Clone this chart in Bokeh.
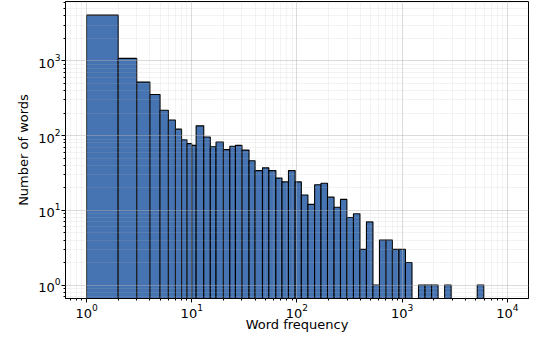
from bokeh.plotting import figure
from bokeh.models import ColumnDataSource, Range1d
from bokeh.embed import file_html
from bokeh.resources import INLINE

# Histogram bin edges (word frequency) and counts (number of words)
bin_edges = [1, 2, 3, 4, 5, 6, 7, 8, 9, 10, 11, 13, 15, 17, 20, 23, 26, 30, 35, 40,
             47, 54, 63, 72, 83, 96, 110, 127, 147, 169, 195, 225, 259, 298, 344,
             397, 457, 527, 608, 700, 807, 931, 1073, 1238, 1428, 1647, 1900, 2192,
             2528, 2916, 3364, 3880, 4476, 5163, 5956]
counts = [4100, 1080, 520, 355, 218, 162, 122, 88, 78, 74, 135, 96, 71, 82, 65, 72,
          74, 64, 46, 34, 37, 34, 27, 24, 34, 24, 16, 12, 22, 23, 15, 11, 14, 8, 9,
          3, 7, 1, 4, 4, 3, 3, 2, 0, 1, 1, 1, 0, 1, 0, 0, 0, 0, 1]
x_label = "Word frequency"
y_label = "Number of words"

left, right, top = [], [], []
for i, c in enumerate(counts):
    if c > 0:
        left.append(bin_edges[i])
        right.append(bin_edges[i + 1])
        top.append(c)
src = ColumnDataSource(dict(left=left, right=right, top=top, bottom=[0.1] * len(top)))

FONT = "DejaVu Sans"

p = figure(width=529, height=334, x_axis_type="log", y_axis_type="log",
           x_range=Range1d(0.631, 15849), y_range=Range1d(0.66, 6240),
           output_backend="svg", toolbar_location=None,
           min_border_left=65, min_border_right=1, min_border_top=1, min_border_bottom=30)

p.quad(left="left", right="right", top="top", bottom="bottom", source=src,
       fill_color="#4673b1", line_color="black", line_width=1.1)

p.outline_line_color = "black"
p.outline_line_width = 1
p.background_fill_color = "white"
p.border_fill_color = "white"

for ax in (p.xaxis[0], p.yaxis[0]):
    ax.axis_line_color = "black"
    ax.major_tick_out = 4
    ax.major_tick_in = 0
    ax.minor_tick_out = 2
    ax.minor_tick_in = 0
    ax.major_tick_line_color = "black"
    ax.minor_tick_line_color = "black"
    ax.major_label_text_font = FONT
    ax.major_label_text_font_size = "13px"
    ax.major_label_text_color = "black"
    ax.major_label_text_line_height = 1.0
    ax.major_label_standoff = 1
    ax.axis_label_text_font = FONT
    ax.axis_label_text_font_size = "13px"
    ax.axis_label_text_font_style = "normal"
    ax.axis_label_text_color = "black"
    ax.axis_label_text_line_height = 1.0
    ax.axis_label_standoff = 1

p.xaxis.axis_label_standoff = -4
p.yaxis.axis_label_standoff = 4
p.xaxis.axis_label = x_label
p.yaxis.axis_label = y_label

for g in (p.xgrid[0], p.ygrid[0]):
    g.grid_line_color = "#b0b0b0"
    g.grid_line_alpha = 0.3
    g.grid_line_width = 0.8
    g.minor_grid_line_color = "#b0b0b0"
    g.minor_grid_line_alpha = 0.2
    g.minor_grid_line_width = 0.8
    g.level = "overlay"

open("out.html", "w").write(file_html(p, INLINE))
